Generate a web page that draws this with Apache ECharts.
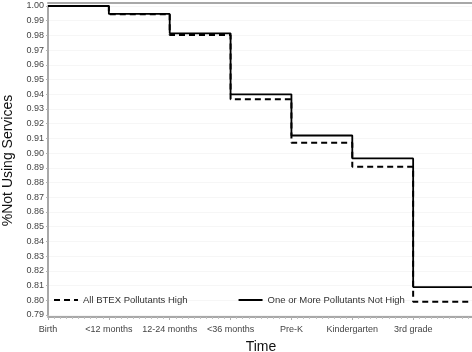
<!DOCTYPE html>
<html>
<head>
<meta charset="utf-8">
<script src="https://cdn.jsdelivr.net/npm/echarts@6/dist/echarts.min.js"></script>
<style>
  html, body { margin: 0; padding: 0; background: #fff; }
  #chart { width: 472px; height: 352px; }
</style>
</head>
<body>
<div id="chart"></div>
<script>
// time points (last slot is the open end of the step curve, unlabeled)
const timeLabels = ["Birth", "<12 months", "12-24 months", "<36 months", "Pre-K", "Kindergarten", "3rd grade", ""];
const allHigh = [1.000, 0.9944, 0.9803, 0.9367, 0.907, 0.8907, 0.799, 0.799];
const notHigh = [1.000, 0.9946, 0.9814, 0.940, 0.912, 0.8964, 0.809, 0.809];
const yTicks = [0.79, 0.80, 0.81, 0.82, 0.83, 0.84, 0.85, 0.86, 0.87, 0.88, 0.89, 0.90,
  0.91, 0.92, 0.93, 0.94, 0.95, 0.96, 0.97, 0.98, 0.99, 1.00];

const font = "Arial, 'Liberation Sans', sans-serif";
const toPairs = arr => arr.map((v, i) => [i, v]);

const chart = echarts.init(document.getElementById("chart"), null, { renderer: "canvas" });

chart.setOption({
  animation: false,
  backgroundColor: "#fff",
  grid: {
    left: 48, right: -2, top: 6, bottom: 37,
    outerBoundsMode: "none",
    containLabel: false,
    show: false
  },
  legend: {
    left: 48, top: 290,
    itemWidth: 24, itemHeight: 10, itemGap: 50,
    itemStyle: { color: "transparent", borderWidth: 0 },
    textStyle: { fontFamily: font, fontSize: 9.5, color: "#333" },
    data: ["All BTEX Pollutants High", "One or More Pollutants Not High"]
  },
  xAxis: [{
    type: "value",
    min: 0, max: 7, interval: 1,
    offset: 2,
    name: "Time",
    nameLocation: "middle",
    nameGap: 23,
    nameTextStyle: { fontFamily: font, fontSize: 14, color: "#111" },
    axisLine: { show: true, lineStyle: { color: "#a8a8a8", width: 2 } },
    axisTick: { show: true, length: 3, lineStyle: { color: "#b0b0b0" } },
    minorTick: { show: true, splitNumber: 10, length: 2, lineStyle: { color: "#c0c0c0" } },
    axisLabel: {
      margin: 8,
      fontFamily: font, fontSize: 9, color: "#444",
      formatter: v => timeLabels[Math.round(v)] || ""
    },
    splitLine: { show: false }
  }, {
    type: "value",
    position: "top",
    min: 0, max: 7,
    offset: 3,
    axisLine: { show: true, lineStyle: { color: "#a8a8a8", width: 2 } },
    axisTick: { show: false },
    axisLabel: { show: false },
    splitLine: { show: false }
  }],
  yAxis: {
    type: "value",
    min: yTicks[0], max: yTicks[yTicks.length - 1], interval: 0.01,
    name: "%Not Using Services",
    nameLocation: "middle",
    nameGap: 32,
    nameTextStyle: { fontFamily: font, fontSize: 14, color: "#111" },
    axisLine: { show: true, lineStyle: { color: "#a8a8a8", width: 2 } },
    axisTick: { show: true, length: 2, lineStyle: { color: "#b0b0b0" } },
    axisLabel: {
      margin: 4,
      fontFamily: font, fontSize: 9, color: "#444",
      formatter: v => v.toFixed(2)
    },
    splitLine: { show: true, lineStyle: { color: "#f6f6f6", width: 1 } }
  },
  series: [{
    name: "All BTEX Pollutants High",
    type: "line",
    step: "end",
    symbol: "none",
    z: 3,
    color: "#000",
    lineStyle: { color: "#000", width: 2, type: [6, 4] },
    data: toPairs(allHigh)
  }, {
    name: "One or More Pollutants Not High",
    type: "line",
    step: "end",
    symbol: "none",
    z: 2,
    color: "#000",
    lineStyle: { color: "#000", width: 1.8 },
    data: toPairs(notHigh)
  }]
});
</script>
</body>
</html>
